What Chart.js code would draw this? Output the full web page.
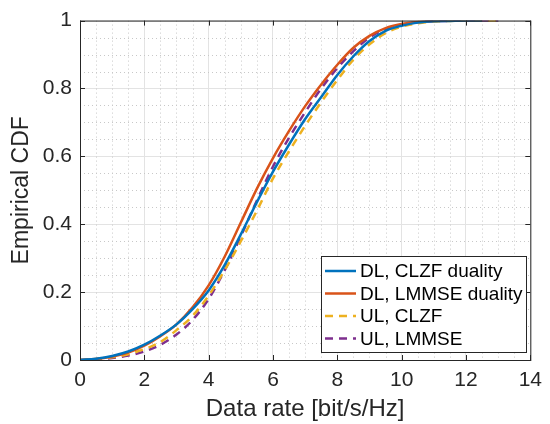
<!DOCTYPE html>
<html>
<head>
<meta charset="utf-8">
<script src="https://cdn.jsdelivr.net/npm/chart.js@4.4.1/dist/chart.umd.min.js"></script>
<style>
  body { margin: 0; background: #fff; }
  #cdf { display: block; }
</style>
</head>
<body>
<canvas id="cdf" width="550" height="424"></canvas>
<script>
// Data rate grid (bit/s/Hz) and the CDF value of each curve at that rate
const rates = [0, 0.5, 1, 1.5, 2, 2.5, 3, 3.5, 4, 4.5, 5, 5.5, 6, 6.5, 7, 7.5, 8, 8.5, 9, 9.5, 10, 10.5, 11, 11.5, 12, 12.5, 13];
const dlClzf  = [0, 0.004, 0.012, 0.025, 0.045, 0.072, 0.105, 0.15, 0.205, 0.28, 0.37, 0.465, 0.555, 0.635, 0.71, 0.775, 0.84, 0.895, 0.94, 0.97, 0.985, 0.994, 0.998, 0.999, 1, 1];
const dlLmmse = [0, 0.003, 0.01, 0.022, 0.042, 0.07, 0.105, 0.155, 0.22, 0.305, 0.405, 0.505, 0.595, 0.675, 0.748, 0.812, 0.87, 0.92, 0.955, 0.978, 0.99, 0.996, 0.999, 1, 1, 1];
const ulClzf  = [0, 0.003, 0.008, 0.017, 0.032, 0.053, 0.088, 0.13, 0.19, 0.265, 0.35, 0.44, 0.535, 0.615, 0.69, 0.76, 0.825, 0.885, 0.93, 0.963, 0.982, 0.992, 0.997, 0.999, 1, 1, 1];
const ulLmmse = [0, 0.002, 0.006, 0.013, 0.025, 0.045, 0.075, 0.118, 0.18, 0.265, 0.365, 0.47, 0.57, 0.655, 0.73, 0.8, 0.86, 0.91, 0.95, 0.975, 0.988, 0.995, 0.998, 0.999, 1, 1, 1];

const seriesNames = ['DL, CLZF duality', 'DL, LMMSE duality', 'UL, CLZF', 'UL, LMMSE'];
const xTicks = [0, 2, 4, 6, 8, 10, 12, 14];
const yTicks = [0, 0.2, 0.4, 0.6, 0.8, 1];

const FONT = 'Liberation Sans, Arial, Helvetica, sans-serif';

function points(vals) {
    return vals.map((v, i) => ({ x: rates[i], y: v }));
}

function line(label, vals, color, dashed) {
    return {
        label: label,
        data: points(vals),
        borderColor: color,
        backgroundColor: color,
        borderWidth: 2.5,
        borderDash: dashed ? [8, 6] : [],
        pointRadius: 0,
        cubicInterpolationMode: 'monotone',
        fill: false
    };
}

// dotted minor grid, like matlab "grid minor"
const minorGrid = {
    id: 'minorGrid',
    beforeDatasetsDraw(chart) {
        const { ctx, chartArea: a, scales: { x, y } } = chart;
        ctx.save();
        ctx.strokeStyle = '#c8c8c8';
        ctx.lineWidth = 1;
        ctx.setLineDash([1, 3]);
        for (let v = 0.5; v < 14; v += 0.5) {
            if (v % 2 === 0) continue;
            const px = Math.round(x.getPixelForValue(v)) + 0.5;
            ctx.beginPath();
            ctx.moveTo(px, a.top);
            ctx.lineTo(px, a.bottom);
            ctx.stroke();
        }
        for (let k = 1; k < 20; k++) {
            if (k % 4 === 0) continue;
            const py = Math.round(y.getPixelForValue(k * 0.05)) + 0.5;
            ctx.beginPath();
            ctx.moveTo(a.left, py);
            ctx.lineTo(a.right, py);
            ctx.stroke();
        }
        ctx.restore();
    }
};

// axes box with inward ticks on all four sides
const axesBox = {
    id: 'axesBox',
    afterDatasetsDraw(chart) {
        const { ctx, chartArea: a, scales: { x, y } } = chart;
        const t = 5;
        ctx.save();
        ctx.strokeStyle = '#262626';
        ctx.lineWidth = 1;
        ctx.setLineDash([]);
        ctx.strokeRect(a.left + 0.5, a.top + 0.5, a.right - a.left, a.bottom - a.top);
        ctx.beginPath();
        xTicks.forEach(v => {
            const px = Math.round(x.getPixelForValue(v)) + 0.5;
            ctx.moveTo(px, a.bottom); ctx.lineTo(px, a.bottom - t);
            ctx.moveTo(px, a.top); ctx.lineTo(px, a.top + t);
        });
        yTicks.forEach(v => {
            const py = Math.round(y.getPixelForValue(v)) + 0.5;
            ctx.moveTo(a.left, py); ctx.lineTo(a.left + t, py);
            ctx.moveTo(a.right, py); ctx.lineTo(a.right - t, py);
        });
        ctx.stroke();
        ctx.restore();
    }
};

// legend box in the lower right corner
const boxLegend = {
    id: 'boxLegend',
    afterDraw(chart) {
        const { ctx } = chart;
        const left = 321, top = 256, w = 205, h = 96;
        ctx.save();
        ctx.fillStyle = '#fff';
        ctx.fillRect(left, top, w, h);
        ctx.strokeStyle = '#262626';
        ctx.lineWidth = 1;
        ctx.strokeRect(left + 0.5, top + 0.5, w, h);
        ctx.font = '19px ' + FONT;
        ctx.textBaseline = 'middle';
        ctx.fillStyle = '#000';
        chart.data.datasets.forEach((ds, i) => {
            const cy = top + 15 + i * 22.5;
            ctx.strokeStyle = ds.borderColor;
            ctx.lineWidth = 2.5;
            ctx.setLineDash(ds.borderDash);
            ctx.beginPath();
            ctx.moveTo(left + 4, cy);
            ctx.lineTo(left + 35, cy);
            ctx.stroke();
            ctx.fillText(ds.label, left + 39, cy + 1);
        });
        ctx.restore();
    }
};

const ctx = document.getElementById('cdf').getContext('2d');
const chart = new Chart(ctx, {
    type: 'line',
    data: {
        datasets: [
            line(seriesNames[0], dlClzf, '#0072BD', false),
            line(seriesNames[1], dlLmmse, '#D95319', false),
            line(seriesNames[2], ulClzf, '#EDB120', true),
            line(seriesNames[3], ulLmmse, '#7E2F8E', true)
        ]
    },
    options: {
        responsive: false,
        animation: false,
        layout: { padding: { top: 19, right: 16, left: 0, bottom: 0 } },
        plugins: {
            legend: { display: false },
            tooltip: { enabled: false }
        },
        scales: {
            x: {
                type: 'linear',
                min: 0,
                max: 14,
                afterBuildTicks: s => { s.ticks = xTicks.map(v => ({ value: v })); },
                afterFit: s => { s.height = 64; },
                grid: { color: '#e3e3e3', drawTicks: false },
                border: { display: false },
                ticks: {
                    color: '#262626',
                    padding: 8,
                    maxRotation: 0,
                    font: { family: FONT, size: 21 }
                },
                title: {
                    display: true,
                    text: 'Data rate [bit/s/Hz]',
                    color: '#262626',
                    padding: { top: 0, bottom: 0 },
                    font: { family: FONT, size: 24 }
                }
            },
            y: {
                min: 0,
                max: 1,
                afterBuildTicks: s => { s.ticks = yTicks.map(v => ({ value: v })); },
                afterFit: s => { s.width = 80; },
                grid: { color: '#e3e3e3', drawTicks: false },
                border: { display: false },
                ticks: {
                    color: '#262626',
                    padding: 8,
                    font: { family: FONT, size: 21 },
                    callback: v => String(Number(v.toFixed(1)))
                },
                title: {
                    display: true,
                    text: 'Empirical CDF',
                    color: '#262626',
                    padding: { top: 8, bottom: 0 },
                    font: { family: FONT, size: 23 }
                }
            }
        }
    },
    plugins: [minorGrid, axesBox, boxLegend]
});
</script>
</body>
</html>
